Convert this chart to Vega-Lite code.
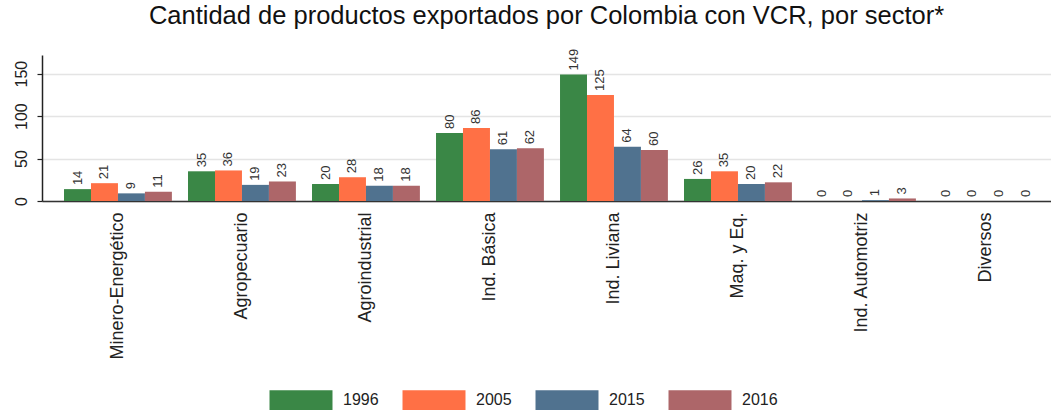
{
  "$schema": "https://vega.github.io/schema/vega-lite/v6.json",
  "autosize": "none",
  "padding": {"left": 42, "top": 55, "right": 0, "bottom": 213},
  "width": 1009,
  "height": 146,
  "background": "white",
  "title": {
    "text": "Cantidad de productos exportados por Colombia con VCR, por sector*",
    "font": "Liberation Sans",
    "fontSize": 25.5,
    "fontWeight": "normal",
    "color": "#111111",
    "frame": "group",
    "anchor": "middle",
    "offset": 19
  },
  "config": {
    "view": {"stroke": null},
    "font": "Liberation Sans"
  },
  "data": {
    "values": [
      {"sector": "Minero-Energético", "year": "1996", "value": 14},
      {"sector": "Minero-Energético", "year": "2005", "value": 21},
      {"sector": "Minero-Energético", "year": "2015", "value": 9},
      {"sector": "Minero-Energético", "year": "2016", "value": 11},
      {"sector": "Agropecuario", "year": "1996", "value": 35},
      {"sector": "Agropecuario", "year": "2005", "value": 36},
      {"sector": "Agropecuario", "year": "2015", "value": 19},
      {"sector": "Agropecuario", "year": "2016", "value": 23},
      {"sector": "Agroindustrial", "year": "1996", "value": 20},
      {"sector": "Agroindustrial", "year": "2005", "value": 28},
      {"sector": "Agroindustrial", "year": "2015", "value": 18},
      {"sector": "Agroindustrial", "year": "2016", "value": 18},
      {"sector": "Ind. Básica", "year": "1996", "value": 80},
      {"sector": "Ind. Básica", "year": "2005", "value": 86},
      {"sector": "Ind. Básica", "year": "2015", "value": 61},
      {"sector": "Ind. Básica", "year": "2016", "value": 62},
      {"sector": "Ind. Liviana", "year": "1996", "value": 149},
      {"sector": "Ind. Liviana", "year": "2005", "value": 125},
      {"sector": "Ind. Liviana", "year": "2015", "value": 64},
      {"sector": "Ind. Liviana", "year": "2016", "value": 60},
      {"sector": "Maq. y Eq.", "year": "1996", "value": 26},
      {"sector": "Maq. y Eq.", "year": "2005", "value": 35},
      {"sector": "Maq. y Eq.", "year": "2015", "value": 20},
      {"sector": "Maq. y Eq.", "year": "2016", "value": 22},
      {"sector": "Ind. Automotriz", "year": "1996", "value": 0},
      {"sector": "Ind. Automotriz", "year": "2005", "value": 0},
      {"sector": "Ind. Automotriz", "year": "2015", "value": 1},
      {"sector": "Ind. Automotriz", "year": "2016", "value": 3},
      {"sector": "Diversos", "year": "1996", "value": 0},
      {"sector": "Diversos", "year": "2005", "value": 0},
      {"sector": "Diversos", "year": "2015", "value": 0},
      {"sector": "Diversos", "year": "2016", "value": 0}
    ]
  },
  "encoding": {
    "x": {
      "field": "sector",
      "type": "nominal",
      "sort": null,
      "scale": {"paddingInner": 0.13, "paddingOuter": 0.1335, "align": 0.665},
      "axis": {
        "title": null,
        "labelAngle": -90,
        "labelFontSize": 18,
        "labelColor": "#222222",
        "labelPadding": 11,
        "labelLimit": 200,
        "ticks": false,
        "domainColor": "#333333",
        "domainWidth": 1.5,
        "labelFont": "Liberation Sans"
      }
    },
    "xOffset": {
      "field": "year",
      "type": "nominal",
      "scale": {"paddingInner": 0, "paddingOuter": 0}
    },
    "y": {
      "field": "value",
      "type": "quantitative",
      "scale": {"domain": [0, 172], "nice": false},
      "axis": {
        "title": null,
        "values": [0, 50, 100, 150],
        "labelAngle": -90,
        "labelAlign": "center",
        "labelBaseline": "bottom",
        "labelFontSize": 16,
        "labelColor": "#222222",
        "labelPadding": 8,
        "tickSize": 5,
        "tickColor": "#222222",
        "tickWidth": 1.2,
        "domainColor": "#222222",
        "domainWidth": 1.5,
        "gridColor": "#e4e4e4",
        "gridWidth": 1.5,
        "labelFont": "Liberation Sans"
      }
    }
  },
  "layer": [
    {
      "mark": {"type": "bar"},
      "encoding": {
        "color": {
          "field": "year",
          "type": "nominal",
          "scale": {
            "domain": ["1996", "2005", "2015", "2016"],
            "range": ["#3a8746", "#ff7045", "#50728f", "#ad6669"]
          },
          "legend": {
            "title": null,
            "orient": "none",
            "legendX": 239,
            "legendY": 325,
            "direction": "horizontal",
            "columns": 4,
            "symbolType": "M-1.6,-0.5H1.6V0.5H-1.6Z",
            "symbolSize": 1550,
            "symbolStrokeWidth": 0,
            "symbolOpacity": 1,
            "labelFontSize": 16,
            "labelColor": "#222222",
            "labelOffset": 22,
            "columnPadding": 23,
            "labelFont": "Liberation Sans"
          }
        }
      }
    },
    {
      "mark": {
        "type": "text",
        "angle": 270,
        "align": "left",
        "baseline": "middle",
        "dx": 4,
        "fontSize": 13,
        "color": "#333333",
        "font": "Liberation Sans"
      },
      "encoding": {
        "text": {"field": "value", "type": "quantitative"}
      }
    }
  ]
}
